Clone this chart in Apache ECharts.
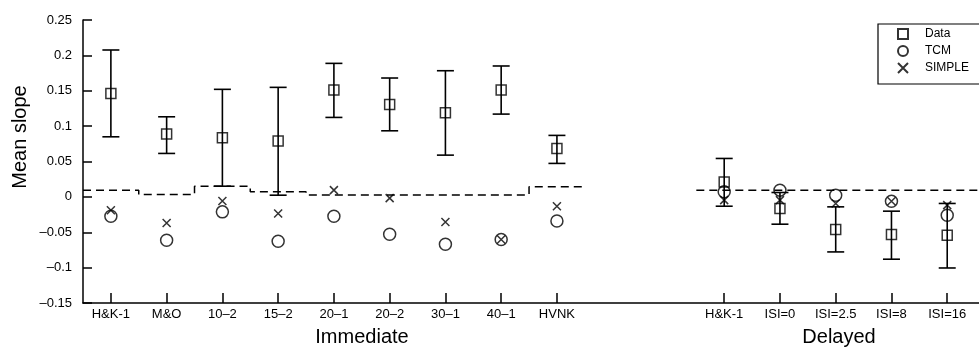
<!DOCTYPE html>
<html>
<head>
<meta charset="utf-8">
<script src="https://cdn.jsdelivr.net/npm/echarts@6/dist/echarts.min.js"></script>
<style>html,body{margin:0;padding:0;background:#fff;}#c{width:979px;height:347px;}</style>
</head>
<body>
<div id="c"></div>
<script>
// ---- data ----
var immLabels = ['H&K-1','M&O','10–2','15–2','20–1','20–2','30–1','40–1','HVNK'];
var immPos = [1,2,3,4,5,6,7,8,9];
var immMean = [0.146, 0.0887, 0.0835, 0.0788, 0.151, 0.1307, 0.1189, 0.151, 0.0685];
var immHigh = [0.2076, 0.1132, 0.152, 0.1548, 0.1887, 0.168, 0.1783, 0.185, 0.0869];
var immLow  = [0.0849, 0.0614, 0.0151, 0.0024, 0.1123, 0.0934, 0.059, 0.117, 0.0473];
var immTCM  = [-0.0273, -0.0613, -0.0212, -0.0627, -0.0273, -0.0528, -0.0669, -0.0603, -0.034];
var immSIMPLE = [-0.0188, -0.0368, -0.0057, -0.0235, 0.0095, -0.0018, -0.0354, -0.0603, -0.0132];
var immBase = [0.0095, 0.0035, 0.0151, 0.0071, 0.0028, 0.0028, 0.0028, 0.0028, 0.0142];

var delLabels = ['H&K-1','ISI=0','ISI=2.5','ISI=8','ISI=16'];
var delPos = [12,13,14,15,16];
var delMean = [0.0212, -0.0165, -0.0461, -0.0532, -0.0542];
var delHigh = [0.0543, 0.0062, -0.0141, -0.0202, -0.0093];
var delLow  = [-0.0132, -0.0386, -0.0778, -0.0881, -0.1005];
var delTCM  = [0.0071, 0.0095, 0.0024, -0.0061, -0.0259];
var delSIMPLE = [-0.0046, -0.0046, -0.0094, -0.0061, -0.0117];
var delBase = [0.0095, 0.0095, 0.0095, 0.0095, 0.0095];

var yTicks = {min: -0.15, max: 0.25, step: 0.05};
var xRange = {min: 0.5, max: 16.57};

// ---- build ----
var allPos = immPos.concat(delPos);
var allLabels = immLabels.concat(delLabels);
function pairs(pos, vals){ return pos.map(function(p,i){ return [p, vals[i]]; }); }
var meanPts = pairs(allPos, immMean.concat(delMean));
var tcmPts = pairs(allPos, immTCM.concat(delTCM));
var simplePts = pairs(allPos, immSIMPLE.concat(delSIMPLE));
var allLow = immLow.concat(delLow), allHigh = immHigh.concat(delHigh);
var errPts = allPos.map(function(p,i){ return [p, allLow[i], allHigh[i]]; });
function stepLine(pos, vals, extendTo){
  var out = [];
  pos.forEach(function(p,i){
    out.push([p-0.5, vals[i]]);
    out.push([(i===pos.length-1 && extendTo!=null) ? extendTo : p+0.5, vals[i]]);
  });
  return out;
}
var font = 'Liberation Sans, Arial, Helvetica, sans-serif';
var squarePath = 'path://M0,0L10,0L10,10L0,10Z';
var crossPath = 'path://M0,0L10,10M10,0L0,10';
var hollow = {color: 'rgba(0,0,0,0)', borderColor: '#000', borderWidth: 1.5};

var chart = echarts.init(document.getElementById('c'), null, {renderer:'canvas'});
chart.setOption({
  animation: false,
  backgroundColor: '#fff',
  textStyle: {fontFamily: font, color: '#000'},
  grid: {left: 83, right: 0, top: 20, bottom: 44, containLabel: false},
  xAxis: {
    type: 'value', min: xRange.min, max: xRange.max,
    axisLine: {onZero: false, lineStyle: {color: '#000', width: 1.5}},
    splitLine: {show: false},
    axisTick: {show: true, inside: true, length: 10, customValues: allPos, lineStyle: {color:'#000', width: 1.5}},
    axisLabel: {
      customValues: allPos, margin: 5, fontSize: 13, color: '#000', fontFamily: font,
      formatter: function(v){ var i = allPos.indexOf(Math.round(v)); return i >= 0 ? allLabels[i] : ''; }
    }
  },
  yAxis: {
    type: 'value', min: yTicks.min, max: yTicks.max, interval: yTicks.step,
    axisLine: {show: true, onZero: false, lineStyle: {color: '#000', width: 1.5}},
    splitLine: {show: false},
    axisTick: {show: true, inside: true, length: 9, lineStyle: {color:'#000', width: 1.5}},
    axisLabel: {
      margin: 11, fontSize: 13, color: '#000', fontFamily: font,
      formatter: function(v){ var s = String(+(+v).toFixed(2)); return s.replace('-', '–'); }
    }
  },
  legend: {
    data: [
      {name: 'Data', icon: squarePath},
      {name: 'TCM', icon: 'circle'},
      {name: 'SIMPLE', icon: crossPath}
    ],
    orient: 'vertical', left: 878, top: 24,
    itemWidth: 34, itemHeight: 10, itemGap: 3,
    symbolKeepAspect: true,
    padding: [3, 40, 9, 19],
    borderColor: '#000', borderWidth: 1.2, borderRadius: 0,
    textStyle: {fontSize: 12, lineHeight: 14, color: '#000', fontFamily: font},
    selectedMode: false
  },
  graphic: [
    {type:'text', x: 20, y: 137, rotation: Math.PI/2,
     style:{text:'Mean slope', font:'20px ' + font, fill:'#000', align:'center', verticalAlign:'middle', textAlign:'center', textVerticalAlign:'middle'}},
    {type:'text', x: 362, y: 337,
     style:{text:'Immediate', font:'20px ' + font, fill:'#000', align:'center', verticalAlign:'middle', textAlign:'center', textVerticalAlign:'middle'}},
    {type:'text', x: 839, y: 337,
     style:{text:'Delayed', font:'20px ' + font, fill:'#000', align:'center', verticalAlign:'middle', textAlign:'center', textVerticalAlign:'middle'}}
  ],
  series: [
    {name: 'baseImm', type: 'line', data: stepLine(immPos, immBase), symbol: 'none', silent: true,
     lineStyle: {color:'#000', width: 1.5, type: [8,5]}},
    {name: 'baseDel', type: 'line', data: stepLine(delPos, delBase, 17), symbol: 'none', silent: true,
     lineStyle: {color:'#000', width: 1.5, type: [8,5]}},
    {name: 'err', type: 'custom', data: errPts, silent: true,
     renderItem: function(params, api){
       var x = api.value(0);
       var lo = api.coord([x, api.value(1)]);
       var hi = api.coord([x, api.value(2)]);
       var w = 8.5;
       var st = {stroke:'#000', lineWidth: 1.6, fill: null};
       return {type:'group', children:[
         {type:'line', shape:{x1:lo[0], y1:lo[1], x2:hi[0], y2:hi[1]}, style: st},
         {type:'line', shape:{x1:lo[0]-w, y1:lo[1], x2:lo[0]+w, y2:lo[1]}, style: st},
         {type:'line', shape:{x1:hi[0]-w, y1:hi[1], x2:hi[0]+w, y2:hi[1]}, style: st}
       ]};
     }},
    {name: 'Data', type: 'scatter', data: meanPts, symbol: squarePath, symbolSize: 10, itemStyle: hollow},
    {name: 'TCM', type: 'scatter', data: tcmPts, symbol: 'circle', symbolSize: 12, itemStyle: hollow},
    {name: 'SIMPLE', type: 'scatter', data: simplePts, symbol: crossPath, symbolSize: 8, itemStyle: hollow}
  ]
});
</script>
</body>
</html>
